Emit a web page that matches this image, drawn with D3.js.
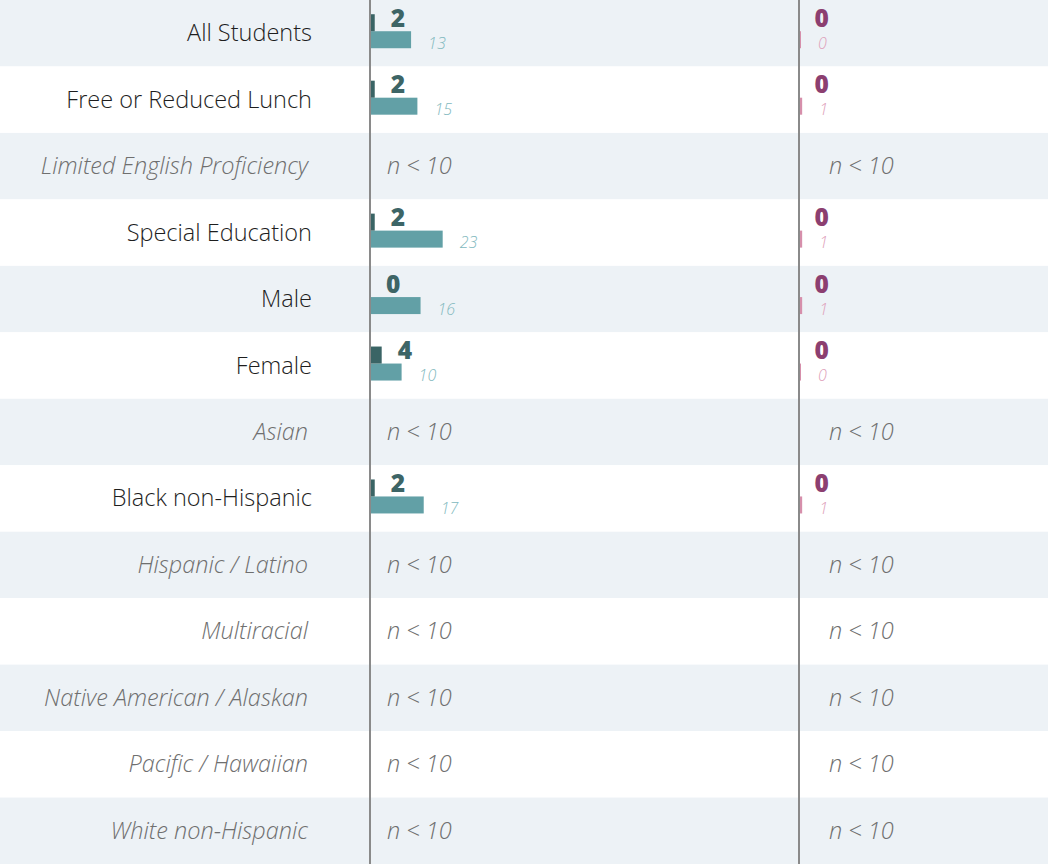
<!DOCTYPE html>
<html>
<head>
<meta charset="utf-8">
<script src="https://cdn.jsdelivr.net/npm/d3@7/dist/d3.min.js"></script>
<style>
  html, body { margin: 0; padding: 0; background: #fff; }
  svg { display: block; font-family: "Open Sans", sans-serif; }
</style>
</head>
<body>
<svg id="chart" width="1048" height="864"></svg>
<script>
const categories = [
  "All Students", "Free or Reduced Lunch", "Limited English Proficiency",
  "Special Education", "Male", "Female", "Asian", "Black non-Hispanic",
  "Hispanic / Latino", "Multiracial", "Native American / Alaskan",
  "Pacific / Hawaiian", "White non-Hispanic"
];
// null = suppressed (n < 10)
const leftCounts    = [13, 15, null, 23, 16, 10, null, 17, null, null, null, null, null];
const leftRateBars  = [1.5, 1.5, null, 1.5, 0, 3.7, null, 1.5, null, null, null, null, null];
const leftRateLabels= [2, 2, null, 2, 0, 4, null, 2, null, null, null, null, null];
const rightCounts   = [0, 1, null, 1, 1, 0, null, 1, null, null, null, null, null];
const rightRates    = [0, 0, null, 0, 0, 0, null, 0, null, null, null, null, null];
const suppressedText = "n < 10";

const W = 1048, H = 864;
const leftLineX = 370, rightLineX = 799;
const svg = d3.select("#chart");

const y = d3.scaleBand().domain(categories).range([0, H]).padding(0);
const x = d3.scaleLinear().domain([0, 25]).range([0, 79]);

const rows = categories.map((c, i) => ({
  cat: c, i,
  lc: leftCounts[i], lr: leftRateBars[i], lrl: leftRateLabels[i],
  rc: rightCounts[i], rr: rightRates[i]
}));

// backgrounds
svg.selectAll("rect.bg").data(rows).join("rect")
  .attr("class", "bg")
  .attr("x", 0).attr("width", W)
  .attr("y", d => y(d.cat)).attr("height", y.bandwidth())
  .attr("fill", d => d.i % 2 === 0 ? "#edf2f6" : "#ffffff");

// category labels
svg.selectAll("text.cat").data(rows).join("text")
  .attr("class", "cat")
  .attr("x", d => d.lc == null ? 308 : 312)
  .attr("y", d => y(d.cat) + y.bandwidth() / 2 + 8)
  .attr("text-anchor", "end")
  .attr("font-size", 23.5)
  .attr("font-weight", 300)
  .attr("font-style", d => d.lc == null ? "italic" : "normal")
  .attr("fill", d => d.lc == null ? "#6f6f6f" : "#1e1e1e")
  .text(d => d.cat);

const data = rows.filter(d => d.lc != null);
const supp = rows.filter(d => d.lc == null);
const mid = d => y(d.cat) + y.bandwidth() / 2;

// left: light bars (counts)
svg.selectAll("rect.lc").data(data).join("rect")
  .attr("x", leftLineX).attr("y", d => mid(d) - 2)
  .attr("width", d => x(d.lc)).attr("height", 17)
  .attr("fill", "#62a0a6");
// left: dark bars (rates)
svg.selectAll("rect.lr").data(data).join("rect")
  .attr("x", leftLineX).attr("y", d => mid(d) - 19)
  .attr("width", d => x(d.lr)).attr("height", 17)
  .attr("fill", "#3a6465");
svg.selectAll("text.lrl").data(data).join("text")
  .attr("x", d => leftLineX + x(d.lr) + 16)
  .attr("y", d => mid(d) - 6.5)
  .attr("font-size", 24.5).attr("font-weight", 800)
  .attr("fill", "#3d6566")
  .text(d => d.lrl);
svg.selectAll("text.lcl").data(data).join("text")
  .attr("x", d => leftLineX + x(d.lc) + 17)
  .attr("y", d => mid(d) + 15.5)
  .attr("font-size", 16).attr("font-style", "italic").attr("font-weight", 300)
  .attr("fill", "#82b9be")
  .text(d => d.lc);

// right: light pink bars (counts)
svg.selectAll("rect.rc").data(data).join("rect")
  .attr("x", rightLineX).attr("y", d => mid(d) - 2)
  .attr("width", d => Math.max(2, x(d.rc))).attr("height", 17)
  .attr("fill", "#d68fab");
svg.selectAll("text.rrl").data(data).join("text")
  .attr("x", d => rightLineX + x(d.rr) + 15.5)
  .attr("y", d => mid(d) - 6.5)
  .attr("font-size", 24.5).attr("font-weight", 800)
  .attr("fill", "#8c3f70")
  .text(d => d.rr);
svg.selectAll("text.rcl").data(data).join("text")
  .attr("x", d => rightLineX + Math.max(2, x(d.rc)) + 17)
  .attr("y", d => mid(d) + 15.5)
  .attr("font-size", 16).attr("font-style", "italic").attr("font-weight", 300)
  .attr("fill", "#dea0b9")
  .text(d => d.rc);

// suppressed text
[[leftLineX + 17], [rightLineX + 30]].forEach(([xx]) => {
  svg.append("g").selectAll("text").data(supp).join("text")
    .attr("x", xx)
    .attr("y", d => mid(d) + 8)
    .attr("font-size", 23.5).attr("font-style", "italic").attr("font-weight", 300)
    .attr("fill", "#6f6f6f")
    .text(suppressedText);
});

// vertical lines
[leftLineX, rightLineX].forEach(lx => {
  svg.append("line")
    .attr("x1", lx).attr("x2", lx).attr("y1", 0).attr("y2", H)
    .attr("stroke", "#8a8a8a").attr("stroke-width", 2);
});
</script>
</body>
</html>
